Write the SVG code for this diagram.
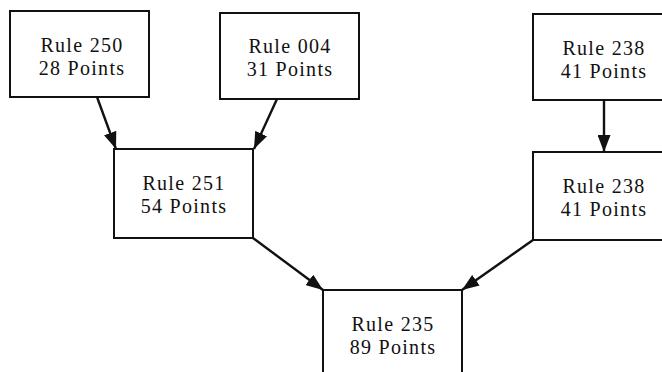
<svg xmlns="http://www.w3.org/2000/svg" width="662" height="372" viewBox="0 0 662 372">
  <style>
    .box { fill: #ffffff; stroke: #111111; stroke-width: 2; }
    .lbl { font-family: "Liberation Serif", "Times New Roman", serif; font-size: 20px; fill: #111111; text-anchor: middle; letter-spacing: 1.3px; }
    .edge { stroke: #111111; stroke-width: 2.4; fill: none; marker-end: url(#head); }
  </style>
  <defs>
    <marker id="head" markerUnits="userSpaceOnUse" markerWidth="17" markerHeight="13" refX="17" refY="6.5" orient="auto">
      <path d="M0,0 L17,6.5 L0,13 Z" fill="#111111"/>
    </marker>
  </defs>
  <rect width="662" height="372" fill="#ffffff"/>

  <g id="connectors">
    <line class="edge" x1="97" y1="97" x2="116" y2="149"/>
    <line class="edge" x1="277" y1="99" x2="254" y2="149"/>
    <line class="edge" x1="604" y1="100" x2="604" y2="152"/>
    <line class="edge" x1="253" y1="238" x2="323" y2="290"/>
    <line class="edge" x1="533" y1="240" x2="462" y2="290"/>
  </g>

  <!-- each label is one text element with two lines, 22.5px apart -->
  <g id="rule250">
    <rect class="box" x="10" y="11" width="139" height="86"/>
    <text class="lbl" x="82" y="52">Rule 250<tspan x="82" dy="22.5">28 Points</tspan></text>
  </g>
  <g id="rule004">
    <rect class="box" x="220" y="13" width="139" height="86"/>
    <text class="lbl" x="290" y="53">Rule 004<tspan x="290" dy="22.5">31 Points</tspan></text>
  </g>
  <g id="rule238a">
    <rect class="box" x="533" y="14" width="142" height="86"/>
    <text class="lbl" x="604" y="55">Rule 238<tspan x="604" dy="22.5">41 Points</tspan></text>
  </g>
  <g id="rule251">
    <rect class="box" x="114" y="149" width="139" height="89"/>
    <text class="lbl" x="184" y="190">Rule 251<tspan x="184" dy="22.5">54 Points</tspan></text>
  </g>
  <g id="rule238b">
    <rect class="box" x="533" y="152" width="142" height="88"/>
    <text class="lbl" x="604" y="193">Rule 238<tspan x="604" dy="22.5">41 Points</tspan></text>
  </g>
  <g id="rule235">
    <rect class="box" x="323" y="290" width="139" height="92"/>
    <text class="lbl" x="393" y="331">Rule 235<tspan x="393" dy="22.5">89 Points</tspan></text>
  </g>
</svg>
